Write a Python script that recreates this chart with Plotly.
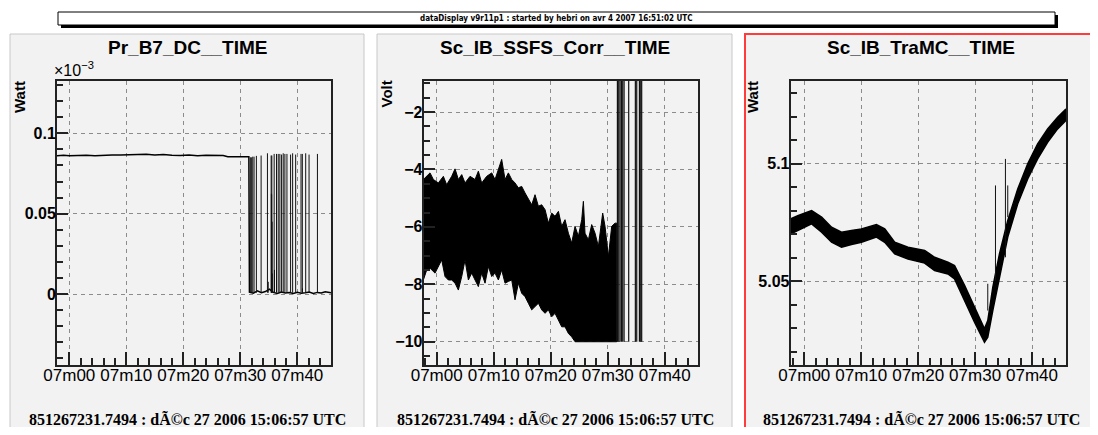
import plotly.graph_objects as go

# page is 1098x435; the html body has an 8px margin, so the figure is 16px smaller
PAGE_W, PAGE_H = 1098, 435
BODY_MARGIN = 8
W, H = PAGE_W - 2 * BODY_MARGIN, PAGE_H - 2 * BODY_MARGIN

# ---------------- text ----------------
banner_text = "dataDisplay v9r11p1 : started by hebri on avr 4 2007 16:51:02 UTC"
titles = ["Pr_B7_DC__TIME", "Sc_IB_SSFS_Corr__TIME", "Sc_IB_TraMC__TIME"]
y_units = ["Watt", "Volt", "Watt"]
footer = "851267231.7494 : dÃ©c 27 2006 15:06:57 UTC"
x_tickvals = [0, 10, 20, 30, 40]
x_ticktext = ["07m00", "07m10", "07m20", "07m30", "07m40"]

# ---------------- panel 1 : Pr_B7_DC (x1e-3 Watt), time in minutes after 07m00 ----------------
t1 = [-2.2, -1.0, 0.0, 1.5, 3.0, 4.5, 6.0, 7.5, 9.0, 10.5, 12.0, 13.5, 15.0, 16.5,
      18.0, 19.5, 21.0, 22.5, 24.0, 25.5, 27.0, 27.8, 29.0, 30.5, 31.5]
v1 = [0.0861, 0.0863, 0.0860, 0.0862, 0.0864, 0.0861, 0.0864, 0.0866, 0.0865, 0.0868,
      0.0867, 0.0870, 0.0866, 0.0869, 0.0864, 0.0862, 0.0865, 0.0861, 0.0863, 0.0864,
      0.0862, 0.0855, 0.0854, 0.0855, 0.0854]
t1_base = [31.6, 32.3, 33.0, 33.7, 34.4, 35.1, 35.8, 36.5, 37.2, 37.9, 38.6, 39.3,
           40.0, 40.7, 41.4, 42.1, 42.8, 43.5, 44.2, 44.9, 45.9]
v1_base = [0.0012, 0.0005, 0.0020, 0.0008, 0.0015, 0.0030, 0.0010, 0.0004, 0.0012,
           0.0006, 0.0009, 0.0003, 0.0011, 0.0005, 0.0008, 0.0012, 0.0004, 0.0010,
           0.0006, 0.0014, 0.0008]
spike_t1 = [31.76, 31.94, 32.18, 32.41, 32.82, 33.65, 34.76, 34.90, 35.41, 35.45, 35.50,
            35.53, 35.58, 35.62, 35.94, 36.00, 36.35, 36.65, 36.94, 37.24, 37.53, 37.82,
            38.18, 38.82, 39.18, 39.71, 40.65, 40.88, 40.90, 41.47, 42.06, 43.53]
spike_top1 = [0.0851, 0.0851, 0.0855, 0.0855, 0.0860, 0.0862, 0.0876, 0.0076, 0.0862,
              0.0624, 0.0620, 0.0862, 0.0450, 0.0128, 0.0872, 0.0150, 0.0872, 0.0872,
              0.0872, 0.0868, 0.0876, 0.0872, 0.0872, 0.0868, 0.0876, 0.0868, 0.0872,
              0.0872, 0.0035, 0.0876, 0.0868, 0.0872]
spike_floor1 = 0.0008

# ---------------- panel 2 : Sc_IB_SSFS_Corr (Volt) ----------------
t2_up = [-2.34, -1.75, -1.17, -0.58, 0.29, 1.17, 1.75, 2.63, 3.22, 3.80, 4.39, 4.97,
         5.85, 6.73, 7.31, 7.89, 8.77, 9.65, 10.23, 10.82, 11.40, 11.99, 12.57, 13.16,
         13.74, 14.33, 14.91, 15.50, 16.08, 16.67, 17.25, 17.84, 18.42, 19.01, 19.59,
         20.18, 20.76, 21.35, 21.93, 22.51, 23.10, 23.68, 24.27, 24.85, 25.44, 25.73,
         26.02, 26.61, 27.19, 27.78, 28.36, 29.12, 29.53, 30.12, 30.70, 31.29, 31.58]
v2_up = [-4.35, -4.24, -4.12, -4.35, -4.47, -4.24, -4.53, -4.24, -3.98, -4.35, -4.18,
         -4.47, -4.24, -4.35, -4.06, -4.47, -4.24, -4.12, -4.35, -4.00, -3.65, -4.35,
         -4.12, -4.35, -4.47, -4.64, -4.59, -4.82, -5.05, -5.23, -4.88, -5.28, -5.23,
         -5.40, -5.87, -5.52, -5.63, -5.46, -5.98, -5.75, -6.22, -6.56, -5.98, -6.33,
         -5.75, -5.11, -6.22, -6.45, -5.92, -6.22, -6.68, -5.52, -5.98, -7.03, -5.98,
         -5.87, -5.87]
t2_lo = [-2.34, -1.75, -1.17, -0.29, 0.29, 0.88, 1.46, 2.05, 2.63, 3.22, 3.80, 4.39,
         4.97, 5.56, 6.14, 6.73, 7.31, 7.89, 8.48, 9.06, 9.65, 10.23, 10.82, 11.40,
         11.99, 12.57, 13.16, 13.74, 14.33, 14.91, 15.50, 16.08, 16.67, 17.25, 17.84,
         18.42, 19.01, 19.59, 20.18, 20.76, 21.35, 21.93, 22.51, 23.10, 23.68, 24.27, 31.58]
v2_lo = [-7.85, -7.50, -7.44, -7.61, -7.38, -7.15, -7.73, -7.85, -7.85, -7.96, -8.20,
         -7.73, -7.15, -7.85, -7.61, -7.85, -8.08, -7.61, -7.96, -7.38, -7.73, -7.61,
         -7.85, -7.50, -7.96, -7.90, -7.85, -8.54, -7.96, -8.31, -8.43, -8.66, -8.89,
         -8.78, -8.66, -8.89, -9.01, -8.89, -9.13, -9.01, -9.24, -9.48, -9.48, -9.71,
         -9.83, -10.0, -10.0]
spike_t2 = [31.70, 31.93, 32.16, 32.40, 32.63, 32.87, 33.68, 34.85, 35.09, 35.56, 35.79, 35.96]
spike_lo2 = -10.0
spike_hi2 = 0.0

# ---------------- panel 3 : Sc_IB_TraMC (Watt) ----------------
t3 = [-2.34, -1.05, 1.28, 3.04, 4.79, 6.54, 8.29, 10.04, 12.67, 14.13, 15.88, 18.22,
      21.14, 22.89, 25.23, 26.39, 28.15, 29.90, 31.65, 32.23, 33.11, 34.28, 35.74,
      37.49, 39.24, 40.99, 42.74, 44.50, 45.96]
up3 = [5.0766, 5.0780, 5.0801, 5.0773, 5.0730, 5.0709, 5.0716, 5.0723, 5.0741, 5.0723,
       5.0666, 5.0645, 5.0631, 5.0602, 5.0581, 5.0567, 5.0482, 5.0389, 5.0297, 5.0332,
       5.0474, 5.0616, 5.0759, 5.0893, 5.1000, 5.1085, 5.1149, 5.1199, 5.1234]
lo3 = [5.0702, 5.0716, 5.0744, 5.0709, 5.0666, 5.0645, 5.0656, 5.0666, 5.0688, 5.0666,
       5.0616, 5.0595, 5.0577, 5.0545, 5.0531, 5.0510, 5.0418, 5.0325, 5.0240, 5.0261,
       5.0375, 5.0517, 5.0688, 5.0830, 5.0936, 5.1021, 5.1092, 5.1149, 5.1185]
spike_t3 = [32.23, 33.58, 35.33, 35.74]
spike_lo3 = [5.0375, 5.0503, 5.0602, 5.0773]
spike_hi3 = [5.0489, 5.0908, 5.1021, 5.0908]


def px(x):
    return (x - BODY_MARGIN) / W


def py(y):
    return 1 - (y - BODY_MARGIN) / H


def vlines(ts, lo, hi):
    xs, ys = [], []
    for i, t in enumerate(ts):
        a = lo[i] if isinstance(lo, list) else lo
        b = hi[i] if isinstance(hi, list) else hi
        xs += [t, t, None]
        ys += [a, b, None]
    return xs, ys


fig = go.Figure()
BLACK = "#000000"

# panel 1
fig.add_trace(go.Scatter(x=t1 + t1_base, y=v1 + v1_base, mode="lines",
                         line=dict(color=BLACK, width=1.5), xaxis="x", yaxis="y",
                         showlegend=False, hoverinfo="skip"))
sx, sy = vlines(spike_t1, spike_floor1, spike_top1)
fig.add_trace(go.Scatter(x=sx, y=sy, mode="lines", line=dict(color="#111", width=1),
                         xaxis="x", yaxis="y", showlegend=False, hoverinfo="skip"))

# panel 2
fig.add_trace(go.Scatter(x=t2_up + t2_lo[::-1], y=v2_up + v2_lo[::-1], mode="lines",
                         fill="toself", fillcolor=BLACK, line=dict(color=BLACK, width=1),
                         xaxis="x2", yaxis="y2", showlegend=False, hoverinfo="skip"))
sx, sy = vlines(spike_t2, spike_lo2, spike_hi2)
fig.add_trace(go.Scatter(x=sx, y=sy, mode="lines", line=dict(color="#111", width=1.2),
                         xaxis="x2", yaxis="y2", showlegend=False, hoverinfo="skip"))

# panel 3
fig.add_trace(go.Scatter(x=t3 + t3[::-1], y=up3 + lo3[::-1], mode="lines",
                         fill="toself", fillcolor=BLACK, line=dict(color=BLACK, width=1.5),
                         xaxis="x3", yaxis="y3", showlegend=False, hoverinfo="skip"))
sx, sy = vlines(spike_t3, spike_lo3, spike_hi3)
fig.add_trace(go.Scatter(x=sx, y=sy, mode="lines", line=dict(color="#111", width=1),
                         xaxis="x3", yaxis="y3", showlegend=False, hoverinfo="skip"))

PANEL_BG = "#f2f2f2"
GRID = "#8c8c8c"
FRAME = "#222222"
SANS = "Liberation Sans, Arial, sans-serif"


def xaxis(dom, rng, anchor):
    return dict(domain=dom, range=rng, anchor=anchor, tickmode="array",
                tickvals=x_tickvals, ticktext=x_ticktext, tickangle=0, ticks="inside",
                ticklen=13, tickwidth=1.5, tickcolor=FRAME, showline=True, linecolor=FRAME,
                linewidth=2, mirror=True, showgrid=True, gridcolor=GRID, gridwidth=1,
                griddash="4px,4px", zeroline=False, ticklabelstandoff=-6,
                tickfont=dict(family=SANS, size=17, color=BLACK),
                minor=dict(tickmode="linear", tick0=0, dtick=2, ticks="inside",
                           ticklen=7, tickwidth=1.5, tickcolor=FRAME, showgrid=False))


def yaxis(dom, rng, anchor, dtick, tick0, mdtick):
    return dict(domain=dom, range=rng, anchor=anchor, tickmode="linear", dtick=dtick,
                tick0=tick0, ticks="inside", ticklen=11, tickwidth=1.5, tickcolor=FRAME,
                showline=True, linecolor=FRAME, linewidth=2, mirror=True,
                showgrid=True, gridcolor=GRID, gridwidth=1, griddash="4px,4px",
                zeroline=False, ticklabelstandoff=-4,
                tickfont=dict(family=SANS, size=16, color=BLACK, weight="bold"),
                minor=dict(tickmode="linear", tick0=tick0, dtick=mdtick, ticks="inside",
                           ticklen=6, tickwidth=1.5, tickcolor=FRAME, showgrid=False))


ydom = [py(365), py(81)]
layout = dict(
    width=W, height=H, margin=dict(l=0, r=0, t=0, b=0, autoexpand=False),
    paper_bgcolor="white", plot_bgcolor=PANEL_BG, showlegend=False,
    xaxis=xaxis([px(57), px(331)], [-2.16, 45.91], "y"),
    yaxis=yaxis(ydom, [-0.0442, 0.1326], "x", 0.05, 0, 0.01),
    xaxis2=xaxis([px(423.7), px(698.3)], [-2.28, 45.89], "y2"),
    yaxis2=yaxis(ydom, [-10.81, -0.92], "x2", 2, 0, 0.5),
    xaxis3=xaxis([px(790.7), px(1066)], [-2.39, 45.97], "y3"),
    yaxis3=yaxis(ydom, [5.0143, 5.1353], "x3", 0.05, 5.0, 0.01),
)
fig.update_layout(**layout)

shapes = []
panels = [(10, 364), (377, 732), (745, 1096)]
for i, (a, b) in enumerate(panels):
    if i == 2:
        shapes.append(dict(type="rect", xref="paper", yref="paper", x0=px(a), x1=px(b),
                           y0=py(445), y1=py(34), fillcolor=PANEL_BG,
                           line=dict(color="#ff3b3b", width=2), layer="below"))
    else:
        shapes.append(dict(type="rect", xref="paper", yref="paper", x0=px(a), x1=px(b),
                           y0=py(445), y1=py(34), fillcolor=PANEL_BG,
                           line=dict(color="#c8c8c8", width=1), layer="below"))
# banner with shadow
shapes.append(dict(type="rect", xref="paper", yref="paper", x0=px(61), x1=px(1058),
                   y0=py(28), y1=py(15), fillcolor="black", line=dict(width=0)))
shapes.append(dict(type="rect", xref="paper", yref="paper", x0=px(58), x1=px(1055),
                   y0=py(25), y1=py(12), fillcolor="white",
                   line=dict(color="black", width=1)))

annotations = [dict(text="<b>" + banner_text + "</b>", xref="paper", yref="paper",
                    x=px(556), y=py(18.5), showarrow=False, xanchor="center",
                    yanchor="middle",
                    font=dict(family="Liberation Sans Narrow, DejaVu Sans Condensed, sans-serif",
                              size=8, color="black"))]
title_cx = [187, 555, 921]
unit_cx = [20, 386, 753]
for i in range(3):
    annotations.append(dict(text="<b>" + titles[i] + "</b>", xref="paper", yref="paper",
                            x=px(title_cx[i]), y=py(48), showarrow=False,
                            xanchor="center", yanchor="middle",
                            font=dict(family=SANS, size=19, color="black")))
    annotations.append(dict(text="<b>" + y_units[i] + "</b>", xref="paper", yref="paper",
                            x=px(unit_cx[i]), y=py(79), textangle=-90, showarrow=False,
                            xanchor="center", yanchor="top",
                            font=dict(family=SANS, size=15, color="black")))
    annotations.append(dict(text="<b>" + footer + "</b>", xref="paper", yref="paper",
                            x=px(title_cx[i]), y=py(419), showarrow=False,
                            xanchor="center", yanchor="middle",
                            font=dict(family="Liberation Serif, Times New Roman, serif",
                                      size=16, color="black")))
annotations.append(dict(text="×10<sup>−3</sup>", xref="paper", yref="paper", x=px(52),
                        y=py(69), showarrow=False, xanchor="left", yanchor="middle",
                        font=dict(family=SANS, size=16, color="black")))

fig.update_layout(shapes=shapes, annotations=annotations)
fig.write_html("out.html")
